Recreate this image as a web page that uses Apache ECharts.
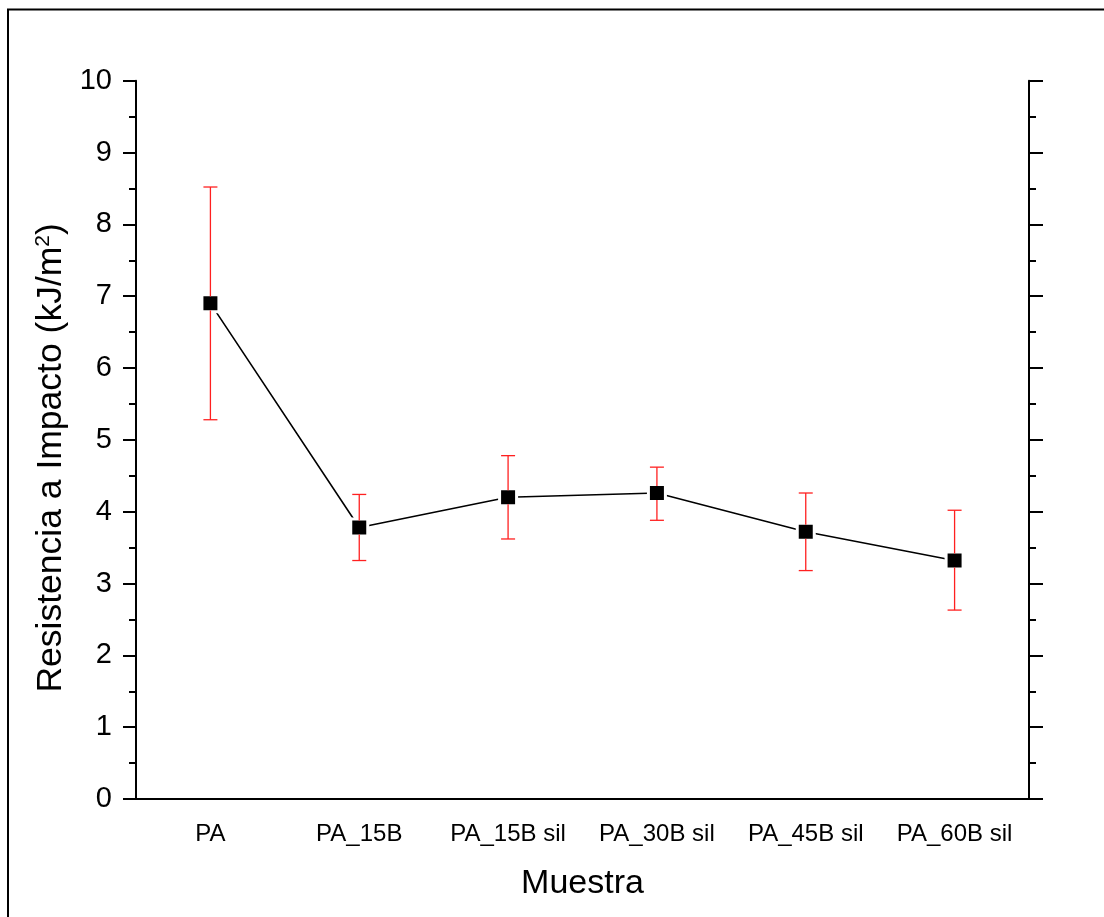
<!DOCTYPE html>
<html>
<head>
<meta charset="utf-8">
<script src="https://cdn.jsdelivr.net/npm/echarts@6/dist/echarts.min.js"></script>
<style>
html,body{margin:0;padding:0;background:#fff;}
#chart{width:1104px;height:917px;}
</style>
</head>
<body>
<div id="chart"></div>
<script>
const categories = ['PA', 'PA_15B', 'PA_15B sil', 'PA_30B sil', 'PA_45B sil', 'PA_60B sil'];
const values = [6.90, 3.78, 4.20, 4.26, 3.72, 3.32];
const errorLow = [5.28, 3.32, 3.62, 3.88, 3.18, 2.63];
const errorHigh = [8.52, 4.24, 4.78, 4.62, 4.26, 4.02];
const yTicks = [0, 1, 2, 3, 4, 5, 6, 7, 8, 9, 10];

const chart = echarts.init(document.getElementById('chart'), null, {renderer: 'canvas'});
const FONT = 'Liberation Sans, Arial, sans-serif';

const errData = categories.map((c, i) => [i, errorLow[i], errorHigh[i], values[i]]);

const option = {
  backgroundColor: '#fff',
  animation: false,
  graphic: [{
    type: 'rect',
    shape: {x: 8, y: 9.5, width: 1200, height: 1000},
    style: {fill: 'none', stroke: '#000', lineWidth: 2},
    silent: true, z: 0
  }],
  grid: {left: 136, right: 75, top: 80.7, bottom: 118, containLabel: false},
  xAxis: {
    type: 'category',
    data: categories,
    boundaryGap: true,
    name: 'Muestra',
    nameLocation: 'middle',
    nameGap: 68,
    nameTextStyle: {fontFamily: FONT, fontSize: 34, color: '#000'},
    axisLine: {lineStyle: {color: '#000', width: 2}},
    axisTick: {alignWithLabel: true, interval: 0, length: 13, lineStyle: {color: '#000', width: 2}},
    axisLabel: {interval: 0, hideOverlap: false, fontFamily: FONT, fontSize: 24, color: '#000', margin: 23},
    splitLine: {show: false}
  },
  yAxis: [{
    type: 'value',
    min: 0, max: 10, interval: 1,
    position: 'left',
    name: '{n|Resistencia a Impacto (kJ/m}{s|2}{n|)}',
    nameLocation: 'middle',
    nameGap: 54,
    nameRotate: 90,
    nameTextStyle: {
      padding: [0, 36, 0, 0],
      rich: {
        n: {fontFamily: FONT, fontSize: 35.5, color: '#000'},
        s: {fontFamily: FONT, fontSize: 21, color: '#000', verticalAlign: 'top', padding: [0, 0, 16, 0]}
      }
    },
    axisLine: {show: true, lineStyle: {color: '#000', width: 2}},
    axisTick: {show: true, length: 13, lineStyle: {color: '#000', width: 2}},
    minorTick: {show: true, splitNumber: 2, length: 7, lineStyle: {color: '#000', width: 2}},
    axisLabel: {fontFamily: FONT, fontSize: 29, color: '#000', margin: 24,
      formatter: v => (yTicks.indexOf(v) >= 0 ? String(v) : '')},
    splitLine: {show: false}
  }, {
    type: 'value',
    min: 0, max: 10, interval: 1,
    position: 'right',
    axisLine: {show: true, lineStyle: {color: '#000', width: 2}},
    axisTick: {show: true, length: 14, lineStyle: {color: '#000', width: 2}},
    minorTick: {show: true, splitNumber: 2, length: 7, lineStyle: {color: '#000', width: 2}},
    axisLabel: {show: false},
    splitLine: {show: false}
  }],
  series: [{
    type: 'line',
    data: values,
    symbol: 'none',
    lineStyle: {color: '#000', width: 1.6},
    z: 2
  }, {
    type: 'scatter',
    data: values,
    symbol: 'rect',
    symbolSize: 17,
    itemStyle: {color: '#000', borderColor: '#fff', borderWidth: 3, opacity: 1},
    z: 3
  }, {
    type: 'custom',
    data: errData,
    z: 4,
    renderItem: function (params, api) {
      const i = api.value(0);
      const lo = api.coord([i, api.value(1)]);
      const hi = api.coord([i, api.value(2)]);
      const mid = api.coord([i, api.value(3)]);
      const half = 7;
      const cap = 7;
      const st = {stroke: '#ff2020', lineWidth: 1.3};
      return {
        type: 'group',
        children: [
          {type: 'line', shape: {x1: hi[0], y1: hi[1], x2: mid[0], y2: mid[1] - half}, style: st},
          {type: 'line', shape: {x1: mid[0], y1: mid[1] + half, x2: lo[0], y2: lo[1]}, style: st},
          {type: 'line', shape: {x1: hi[0] - cap, y1: hi[1], x2: hi[0] + cap, y2: hi[1]}, style: st},
          {type: 'line', shape: {x1: lo[0] - cap, y1: lo[1], x2: lo[0] + cap, y2: lo[1]}, style: st}
        ]
      };
    }
  }]
};
chart.setOption(option);
</script>
</body>
</html>
